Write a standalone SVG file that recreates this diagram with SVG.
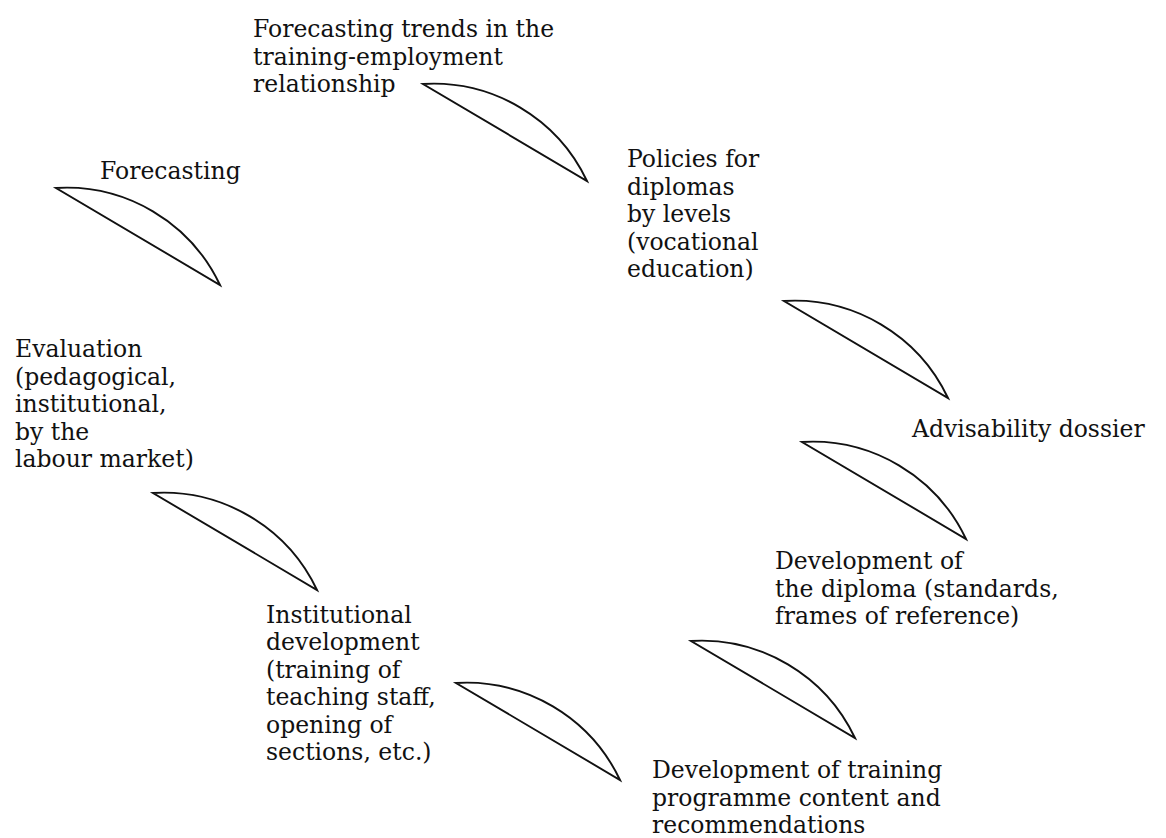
<svg xmlns="http://www.w3.org/2000/svg" xmlns:xlink="http://www.w3.org/1999/xlink" width="1166" height="838" viewBox="0 0 1166 838">
  <style>
    .lbl { font-family: "DejaVu Serif", "Liberation Serif", serif; font-size: 23.5px; fill: #111; }
    .lens { fill: none; stroke: #111; stroke-width: 1.9; stroke-linejoin: miter; }
  </style>
  <defs>
    <!-- crescent connector: straight chord plus bulging arc, anchored at its upper-left tip -->
    <path id="lens" d="M0,0 A170,170 0 0 1 164,97 Z"/>
  </defs>
  <rect width="1166" height="838" fill="#fff"/>

  <g id="connectors" class="lens">
    <use xlink:href="#lens" x="56" y="188"/>
    <use xlink:href="#lens" x="423" y="84"/>
    <use xlink:href="#lens" x="784" y="301"/>
    <use xlink:href="#lens" x="802" y="442"/>
    <use xlink:href="#lens" x="691" y="641"/>
    <use xlink:href="#lens" x="456" y="683"/>
    <use xlink:href="#lens" x="153" y="493"/>
  </g>

  <g id="forecasting" class="lbl">
    <text x="100" y="179">Forecasting</text>
  </g>

  <g id="forecasting-trends" class="lbl">
    <text x="253" y="37">Forecasting trends in the</text>
    <text x="253" y="64.5">training-employment</text>
    <text x="253" y="92">relationship</text>
  </g>

  <g id="diploma-policies" class="lbl">
    <text x="627" y="167">Policies for</text>
    <text x="627" y="194.5">diplomas</text>
    <text x="627" y="222">by levels</text>
    <text x="627" y="249.5">(vocational</text>
    <text x="627" y="277">education)</text>
  </g>

  <g id="advisability" class="lbl">
    <text x="912" y="437">Advisability dossier</text>
  </g>

  <g id="diploma-development" class="lbl">
    <text x="775" y="569">Development of</text>
    <text x="775" y="596.5">the diploma (standards,</text>
    <text x="775" y="624">frames of reference)</text>
  </g>

  <g id="programme-content" class="lbl">
    <text x="652" y="778">Development of training</text>
    <text x="652" y="805.5">programme content and</text>
    <text x="652" y="833">recommendations</text>
  </g>

  <g id="institutional-development" class="lbl">
    <text x="266" y="622.5">Institutional</text>
    <text x="266" y="650">development</text>
    <text x="266" y="677.5">(training of</text>
    <text x="266" y="705">teaching staff,</text>
    <text x="266" y="732.5">opening of</text>
    <text x="266" y="760">sections, etc.)</text>
  </g>

  <g id="evaluation" class="lbl">
    <text x="15" y="357">Evaluation</text>
    <text x="15" y="384.5">(pedagogical,</text>
    <text x="15" y="412">institutional,</text>
    <text x="15" y="439.5">by the</text>
    <text x="15" y="467">labour market)</text>
  </g>
</svg>
